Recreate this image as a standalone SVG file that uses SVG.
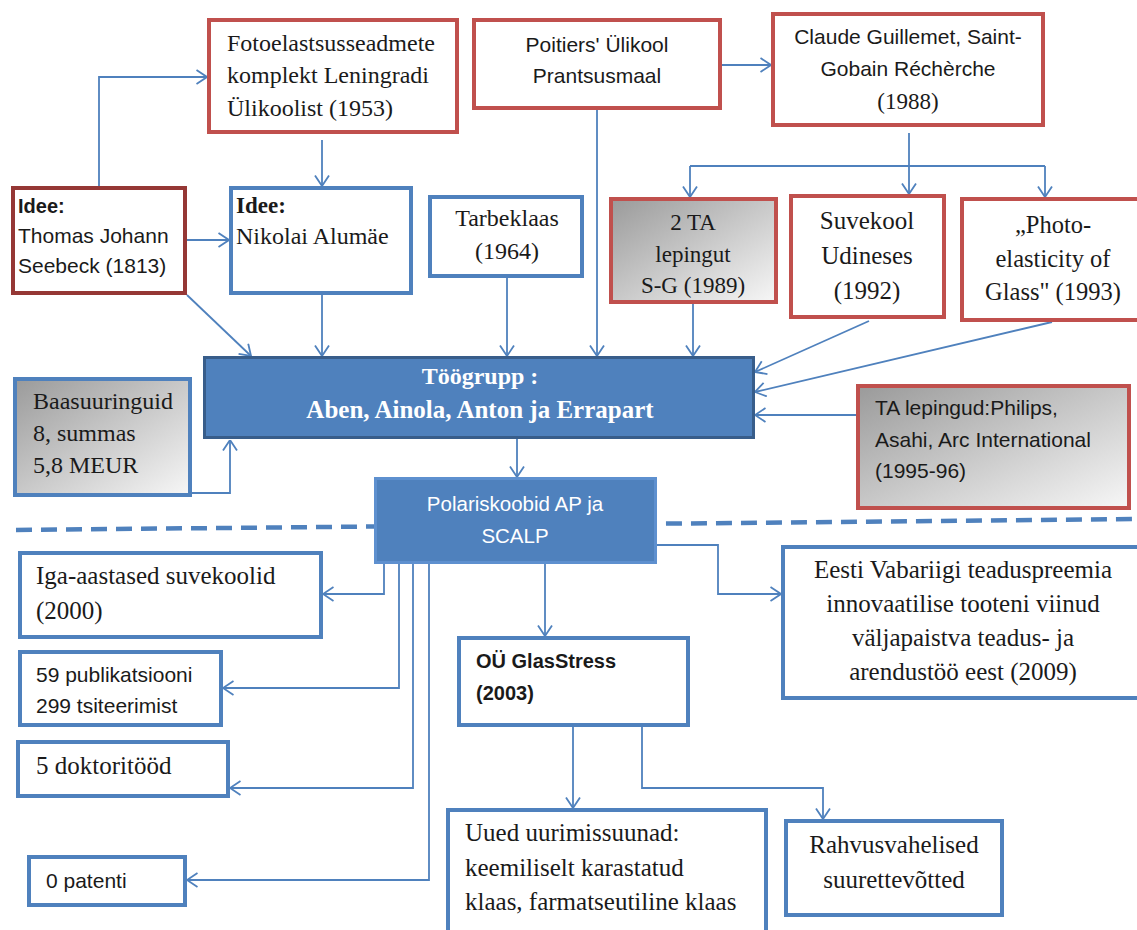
<svg xmlns="http://www.w3.org/2000/svg" width="1137" height="930" viewBox="0 0 1137 930">
  <style>
    .box { fill: #ffffff; stroke-width: 4; }
    .red { stroke: #C0504D; }
    .dred { stroke: #953735; }
    .blue { stroke: #4F81BD; }
    .grad { fill: url(#greyFade); }
    .serif { font-family: "Liberation Serif", "Times New Roman", serif; fill: #1a1a1a; }
    .sans { font-family: "Liberation Sans", Arial, sans-serif; fill: #1a1a1a; }
    .white { fill: #ffffff; }
    .mid { text-anchor: middle; }
    .b { font-weight: bold; }
    .link { fill: none; stroke: #4F81BD; stroke-width: 1.8; marker-end: url(#arrow); }
    .plain { fill: none; stroke: #4F81BD; stroke-width: 1.8; }
  </style>
  <defs>
    <linearGradient id="greyFade" x1="0" y1="0" x2="1" y2="1">
      <stop offset="0" stop-color="#9a9a9a"/>
      <stop offset="1" stop-color="#f7f7f7"/>
    </linearGradient>
    <marker id="arrow" viewBox="0 0 12 16" refX="11.5" refY="8" markerWidth="12" markerHeight="16" markerUnits="userSpaceOnUse" orient="auto">
      <path d="M1,1 L11.5,8 L1,15" fill="none" stroke="#4F81BD" stroke-width="1.8"/>
    </marker>
  </defs>

  <rect width="1137" height="930" fill="#ffffff"/>

  <!-- dashed divider between history and results -->
  <line x1="16" y1="530" x2="1137" y2="519" stroke="#4F81BD" stroke-width="4.5" stroke-dasharray="16 9"/>

  <!-- connectors -->
  <g id="connectors">
    <polyline class="link" points="99,186 99,77 207,77"/>
    <line class="link" x1="187" y1="240" x2="229" y2="240"/>
    <line class="link" x1="322" y1="140" x2="322" y2="186"/>
    <line class="link" x1="187" y1="295" x2="251" y2="356"/>
    <line class="link" x1="322" y1="295" x2="322" y2="356"/>
    <line class="link" x1="507" y1="278" x2="507" y2="356"/>
    <line class="link" x1="597" y1="110" x2="597" y2="356"/>
    <line class="link" x1="722" y1="65" x2="771" y2="65"/>
    <line class="plain" x1="909" y1="133" x2="909" y2="166"/>
    <line class="plain" x1="690" y1="166" x2="1045" y2="166"/>
    <line class="link" x1="690" y1="166" x2="690" y2="197"/>
    <line class="link" x1="909" y1="166" x2="909" y2="194"/>
    <line class="link" x1="1045" y1="166" x2="1045" y2="197"/>
    <line class="link" x1="693" y1="304" x2="693" y2="356"/>
    <line class="link" x1="869" y1="321" x2="755" y2="372"/>
    <line class="link" x1="1052" y1="322" x2="755" y2="392"/>
    <line class="link" x1="856" y1="415" x2="755" y2="415"/>
    <polyline class="link" points="192,493 230,493 230,440"/>
    <line class="link" x1="517" y1="439" x2="517" y2="477"/>
    <polyline class="link" points="384,564 384,594 323,594"/>
    <polyline class="link" points="399,564 399,688 223,688"/>
    <polyline class="link" points="413,564 413,788 230,788"/>
    <polyline class="link" points="429,564 429,880 187,880"/>
    <line class="link" x1="545" y1="564" x2="545" y2="636"/>
    <polyline class="link" points="657,545 718,545 718,594 781,594"/>
    <line class="link" x1="573" y1="727" x2="573" y2="808"/>
    <polyline class="link" points="642,727 642,788 823,788 823,819"/>
  </g>

  <g id="fotoelast">
    <rect class="box red" x="209" y="20" width="248" height="112"/>
    <text class="serif" font-size="24" x="227" y="51">Fotoelastsusseadmete</text>
    <text class="serif" font-size="24" x="227" y="83">komplekt Leningradi</text>
    <text class="serif" font-size="24" x="227" y="116">Ülikoolist (1953)</text>
  </g>

  <g id="poitiers">
    <rect class="box red" x="474" y="20" width="246" height="88"/>
    <text class="sans mid" font-size="21" x="597" y="52">Poitiers' Ülikool</text>
    <text class="sans mid" font-size="21" x="597" y="83">Prantsusmaal</text>
  </g>

  <g id="guillemet">
    <rect class="box red" x="773" y="14" width="270" height="111"/>
    <text class="sans mid" font-size="21" x="908" y="44">Claude Guillemet, Saint-</text>
    <text class="sans mid" font-size="21" x="908" y="76">Gobain Réchèrche</text>
    <text class="serif mid" font-size="23" x="908" y="109">(1988)</text>
  </g>

  <g id="seebeck">
    <rect class="box dred" x="13" y="188" width="172" height="105"/>
    <text class="sans b" font-size="20" x="18" y="213">Idee:</text>
    <text class="sans" font-size="21" x="18" y="243">Thomas Johann</text>
    <text class="sans" font-size="21" x="18" y="273">Seebeck (1813)</text>
  </g>

  <g id="alumae">
    <rect class="box blue" x="231" y="188" width="180" height="105"/>
    <text class="serif b" font-size="23" x="236" y="213">Idee:</text>
    <text class="serif" font-size="24" x="236" y="244">Nikolai Alumäe</text>
  </g>

  <g id="tarbeklaas">
    <rect class="box blue" x="430" y="197" width="152" height="79"/>
    <text class="serif mid" font-size="24" x="507" y="226">Tarbeklaas</text>
    <text class="serif mid" font-size="24" x="507" y="259">(1964)</text>
  </g>

  <g id="ta-lepingut">
    <rect class="box red grad" x="611" y="199" width="165" height="103"/>
    <text class="serif mid" font-size="23" x="693" y="230">2 TA</text>
    <text class="serif mid" font-size="23" x="693" y="262">lepingut</text>
    <text class="serif mid" font-size="23" x="693" y="293">S-G (1989)</text>
  </g>

  <g id="suvekool">
    <rect class="box red" x="791" y="196" width="153" height="121"/>
    <text class="serif mid" font-size="25" x="867" y="229">Suvekool</text>
    <text class="serif mid" font-size="25" x="867" y="264">Udineses</text>
    <text class="serif mid" font-size="25" x="867" y="299">(1992)</text>
  </g>

  <g id="photoelasticity">
    <rect class="box red" x="962" y="199" width="180" height="121"/>
    <text class="serif mid" font-size="24.5" x="1053" y="233">„Photo-</text>
    <text class="serif mid" font-size="24.5" x="1053" y="267">elasticity of</text>
    <text class="serif mid" font-size="24.5" x="1053" y="300">Glass" (1993)</text>
  </g>

  <g id="toogrupp">
    <rect x="204.5" y="357.5" width="549" height="80" fill="#4F81BD" stroke="#385D8A" stroke-width="3"/>
    <text class="serif white mid b" font-size="24" x="480" y="384">Töögrupp :</text>
    <text class="serif white mid b" font-size="25" x="480" y="418">Aben, Ainola, Anton ja Errapart</text>
  </g>

  <g id="baasuuringud">
    <rect class="box blue grad" x="15" y="379" width="175" height="116"/>
    <text class="serif" font-size="24" x="33" y="409">Baasuuringuid</text>
    <text class="serif" font-size="24" x="33" y="441">8, summas</text>
    <text class="serif" font-size="24" x="33" y="473">5,8 MEUR</text>
  </g>

  <g id="ta-lepingud">
    <rect class="box red grad" x="858" y="386" width="271" height="122"/>
    <text class="sans" font-size="21" x="875" y="415">TA lepingud:Philips,</text>
    <text class="sans" font-size="21" x="875" y="447">Asahi, Arc International</text>
    <text class="sans" font-size="21" x="875" y="478">(1995-96)</text>
  </g>

  <g id="polariskoobid">
    <rect x="375.5" y="478.5" width="280" height="84" fill="#4F81BD" stroke="#5E90CF" stroke-width="3"/>
    <text class="sans white mid" font-size="20.5" x="515" y="511">Polariskoobid AP ja</text>
    <text class="sans white mid" font-size="20.5" x="515" y="543">SCALP</text>
  </g>

  <g id="suvekoolid">
    <rect class="box blue" x="20" y="553" width="301" height="84"/>
    <text class="serif" font-size="25" x="36" y="584">Iga-aastased suvekoolid</text>
    <text class="serif" font-size="25" x="36" y="619">(2000)</text>
  </g>

  <g id="publikatsioonid">
    <rect class="box blue" x="20" y="652" width="201" height="73"/>
    <text class="sans" font-size="21" x="36" y="682">59 publikatsiooni</text>
    <text class="sans" font-size="21" x="36" y="713">299 tsiteerimist</text>
  </g>

  <g id="doktoritood">
    <rect class="box blue" x="18" y="742" width="210" height="54"/>
    <text class="serif" font-size="25" x="36" y="774">5 doktoritööd</text>
  </g>

  <g id="patendid">
    <rect class="box blue" x="29" y="857" width="156" height="48"/>
    <text class="sans" font-size="21" x="46" y="888">0 patenti</text>
  </g>

  <g id="glasstress">
    <rect class="box blue" x="459" y="638" width="229" height="87"/>
    <text class="sans b" font-size="20" x="476" y="668">OÜ GlasStress</text>
    <text class="sans b" font-size="20" x="476" y="700">(2003)</text>
  </g>

  <g id="teaduspreemia">
    <rect class="box blue" x="783" y="547" width="362" height="151"/>
    <text class="serif mid" font-size="25" x="963" y="578">Eesti Vabariigi teaduspreemia</text>
    <text class="serif mid" font-size="25" x="963" y="612">innovaatilise tooteni viinud</text>
    <text class="serif mid" font-size="25" x="963" y="646">väljapaistva teadus- ja</text>
    <text class="serif mid" font-size="25" x="963" y="680">arendustöö eest (2009)</text>
  </g>

  <g id="uurimissuunad">
    <rect class="box blue" x="448" y="810" width="318" height="130"/>
    <text class="serif" font-size="25" x="465" y="841">Uued uurimissuunad:</text>
    <text class="serif" font-size="25" x="465" y="876">keemiliselt karastatud</text>
    <text class="serif" font-size="25" x="465" y="910">klaas, farmatseutiline klaas</text>
  </g>

  <g id="suurettevotted">
    <rect class="box blue" x="786" y="821" width="216" height="94"/>
    <text class="serif mid" font-size="25" x="894" y="853">Rahvusvahelised</text>
    <text class="serif mid" font-size="25" x="894" y="888">suurettevõtted</text>
  </g>
</svg>
